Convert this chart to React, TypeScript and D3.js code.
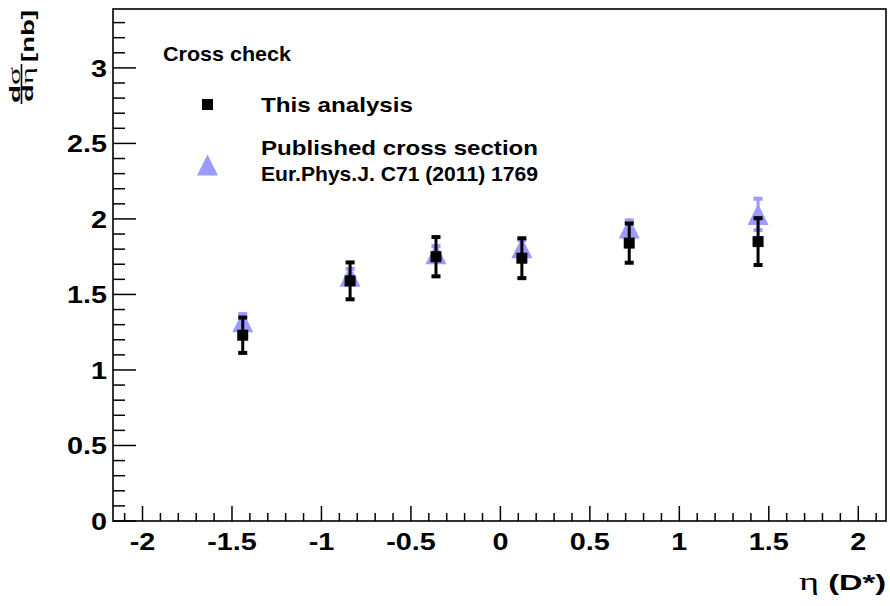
import React from 'react';
import * as d3 from 'd3';

// eta bin centres
const etaBins = [-1.44, -0.84, -0.36, 0.12, 0.72, 1.44];
// this analysis
const thisAnalysis = [1.23, 1.59, 1.75, 1.74, 1.84, 1.85];
const thisAnalysisErr = [0.117, 0.122, 0.13, 0.132, 0.13, 0.155];
// published (Eur.Phys.J. C71 (2011) 1769)
const published = [1.32, 1.62, 1.77, 1.81, 1.94, 2.03];
const publishedErr = [0.05, 0.05, 0.05, 0.05, 0.05, 0.104];

const xMajor = [-2, -1.5, -1, -0.5, 0, 0.5, 1, 1.5, 2];
const yMajor = [0, 0.5, 1, 1.5, 2, 2.5, 3];

const W = 890;
const H = 606;
const frame = { left: 113, right: 886, top: 9, bottom: 521 };
const FONT = '"Liberation Sans", Arial, Helvetica, sans-serif';
const SERIF = '"Liberation Serif", "Times New Roman", serif';
const BLUE = '#9a9aff';
const STRETCH = 1.2; // labels are drawn wide

const App: React.FC = () => {
  const x = d3.scaleLinear().domain([-2.165, 2.155]).range([frame.left, frame.right]);
  const y = d3.scaleLinear().domain([0, 3.39]).range([frame.bottom, frame.top]);

  const xMinor = d3.range(-21, 22).map(i => i / 10).filter(v => !xMajor.some(m => Math.abs(m - v) < 1e-6));
  const yMinor = d3.range(0, 34).map(i => i / 10).filter(v => !yMajor.some(m => Math.abs(m - v) < 1e-6));

  const triPath = (cx: number, cy: number) => {
    const h = 21;
    const w = 21;
    return `M${cx - w / 2},${cy + h / 2}L${cx + w / 2},${cy + h / 2}L${cx},${cy - h / 2}Z`;
  };

  const errBar = (cx: number, v: number, e: number, color: string) => {
    const y0 = y(v - e);
    const y1 = y(v + e);
    return (
      <g>
        <line x1={cx} x2={cx} y1={y0} y2={y1} stroke={color} strokeWidth={3} />
        <rect x={cx - 4.5} y={y1 - 2} width={9} height={4} fill={color} />
        <rect x={cx - 4.5} y={y0 - 2} width={9} height={4} fill={color} />
      </g>
    );
  };

  return (
    <svg width={W} height={H} style={{ position: 'absolute', left: 0, top: 0, background: '#fff' }}
      fontFamily={FONT} fontWeight="bold">
      <rect x={0} y={0} width={W} height={H} fill="#fff" />

      {/* published cross section */}
      {etaBins.map((e, i) => (
        <g key={'p' + i}>
          {errBar(x(e), published[i], publishedErr[i], BLUE)}
          <path d={triPath(x(e), y(published[i]))} fill={BLUE} />
        </g>
      ))}

      {/* this analysis */}
      {etaBins.map((e, i) => (
        <g key={'t' + i}>
          {errBar(x(e), thisAnalysis[i], thisAnalysisErr[i], '#000')}
          <rect x={x(e) - 5.5} y={y(thisAnalysis[i]) - 5.5} width={11} height={11} fill="#000" />
        </g>
      ))}

      {/* frame */}
      <rect x={frame.left} y={frame.top} width={frame.right - frame.left} height={frame.bottom - frame.top}
        fill="none" stroke="#000" strokeWidth={1.6} />

      {/* x ticks */}
      {xMajor.map(v => (
        <g key={'xm' + v}>
          <line x1={x(v)} x2={x(v)} y1={frame.bottom} y2={frame.bottom - 15} stroke="#000" strokeWidth={1.5} />
          <text transform={`translate(${x(v)},550) scale(${STRETCH},1)`} textAnchor="middle" fontSize={24}>{v}</text>
        </g>
      ))}
      {xMinor.map(v => (
        <line key={'xn' + v} x1={x(v)} x2={x(v)} y1={frame.bottom} y2={frame.bottom - 8} stroke="#000" strokeWidth={1.5} />
      ))}

      {/* y ticks */}
      {yMajor.map(v => (
        <g key={'ym' + v}>
          <line x1={frame.left} x2={frame.left + 23} y1={y(v)} y2={y(v)} stroke="#000" strokeWidth={1.5} />
          <text transform={`translate(107,${y(v) + 8.6}) scale(${STRETCH},1)`} textAnchor="end" fontSize={24}>{v}</text>
        </g>
      ))}
      {yMinor.map(v => (
        <line key={'yn' + v} x1={frame.left} x2={frame.left + 12} y1={y(v)} y2={y(v)} stroke="#000" strokeWidth={1.5} />
      ))}

      {/* x title */}
      <text x={799} y={590} fontSize={22} textLength={87} lengthAdjust="spacingAndGlyphs">
        <tspan fontFamily={SERIF} fontWeight="normal" fontSize={26}>η</tspan>
        <tspan> (D*)</tspan>
      </text>

      {/* y title, rotated */}
      <g transform="translate(34,105) rotate(-90)">
        <text x={2} y={-14} fontSize={15} textLength={36} lengthAdjust="spacingAndGlyphs">
          d<tspan fontFamily={SERIF} fontWeight="normal" fontSize={17}>σ</tspan>
        </text>
        <line x1={1} x2={41} y1={-12.5} y2={-12.5} stroke="#000" strokeWidth={1.6} />
        <text x={3} y={-1} fontSize={15} textLength={35} lengthAdjust="spacingAndGlyphs">
          d<tspan fontFamily={SERIF} fontWeight="normal" fontSize={17}>η</tspan>
        </text>
        <text x={43} y={0} fontSize={18} textLength={52} lengthAdjust="spacingAndGlyphs">[nb]</text>
      </g>

      {/* legend */}
      <text x={163} y={61} fontSize={21} textLength={128} lengthAdjust="spacingAndGlyphs">Cross check</text>
      <rect x={202} y={99} width={11} height={11} fill="#000" />
      <text x={261} y={112} fontSize={21} textLength={152} lengthAdjust="spacingAndGlyphs">This analysis</text>
      <path d={triPath(207.5, 165)} fill={BLUE} />
      <text x={261} y={155} fontSize={21} textLength={277} lengthAdjust="spacingAndGlyphs">Published cross section</text>
      <text x={261} y={181} fontSize={21} textLength={277} lengthAdjust="spacingAndGlyphs">Eur.Phys.J. C71 (2011) 1769</text>
    </svg>
  );
};

export default App;
